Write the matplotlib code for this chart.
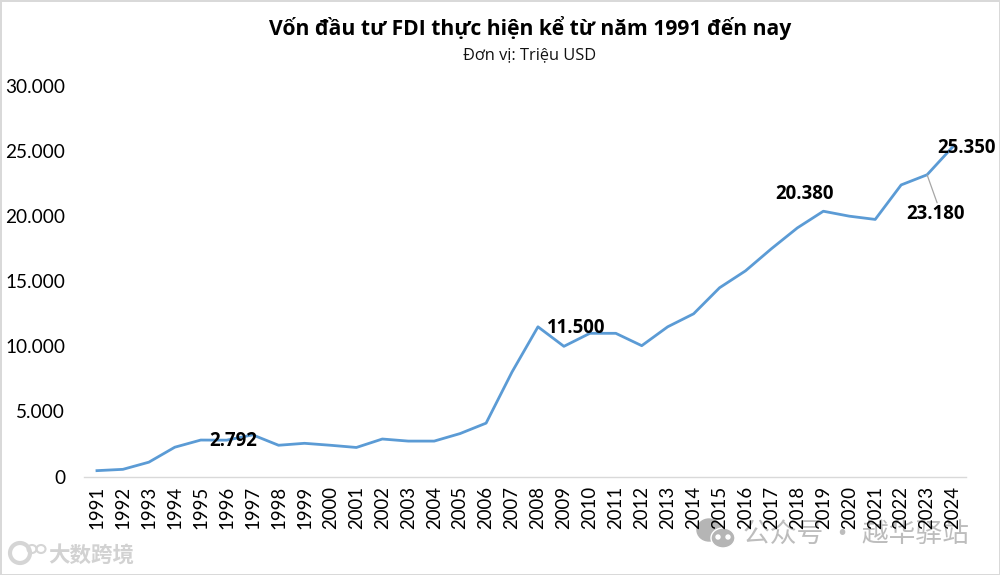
import matplotlib
matplotlib.use("Agg")
import matplotlib.pyplot as plt
from matplotlib.patches import Ellipse

years = list(range(1991, 2025))
fdi = [450, 550, 1100, 2250, 2800, 2792, 3200, 2400, 2550, 2400, 2230, 2880,
       2720, 2720, 3300, 4100, 8030, 11500, 10000, 11000, 11000, 10050, 11500,
       12500, 14500, 15800, 17500, 19100, 20380, 20000, 19750, 22400, 23180, 25350]
yticks = [0, 5000, 10000, 15000, 20000, 25000, 30000]
ylabels = ["0", "5.000", "10.000", "15.000", "20.000", "25.000", "30.000"]
title = "Vốn đầu tư FDI thực hiện kể từ năm 1991 đến nay"
subtitle = "Đơn vị: Triệu USD"
labels = {1996: "2.792", 2008: "11.500", 2019: "20.380", 2023: "23.180", 2024: "25.350"}

PT = 0.72  # points per pixel at dpi 100
plt.rcParams['font.family'] = ['Open Sans', 'DejaVu Sans']
num_font = ['Lato', 'DejaVu Sans']
W, H = 1000, 575
fig = plt.figure(figsize=(W/100, H/100), dpi=100, facecolor='white', edgecolor='#d9d9d9', linewidth=2)

# watermarks sit beneath the chart, as in the reference
cjk = ['Noto Sans CJK SC', 'DejaVu Sans']
fig.text(743/W, 1-535/H, "公众号 · 越华驿站", ha='left', va='center', fontsize=19.3,
         color='#bdbdbd', family=cjk, zorder=-2)
fig.text(48/W, 1-556/H, "大数跨境", ha='left', va='center', fontsize=15.5, fontweight='bold',
         color='#d2d2d2', family=cjk, zorder=-2)
bg = fig.add_axes([0, 0, 1, 1], facecolor='none', zorder=-1)
bg.set_xlim(0, W); bg.set_ylim(H, 0); bg.axis('off')
bg.add_patch(Ellipse((709, 530), 24, 22, color='#b5b5b5'))
bg.add_patch(Ellipse((723, 538), 24, 20, fc='#b5b5b5', ec='white', lw=1))
for cx, cy, r in [(718, 537, 2), (728, 537, 2)]:
    bg.add_patch(Ellipse((cx, cy), 2*r, 2*r, color='white'))
bg.add_patch(Ellipse((20, 553), 20, 20, fc='none', ec='#d5d5d5', lw=3))
bg.add_patch(Ellipse((32, 549), 9, 8, fc='none', ec='#d5d5d5', lw=1.5))
bg.add_patch(Ellipse((41, 549), 9, 8, fc='none', ec='#d5d5d5', lw=1.5))

ax = fig.add_axes([84/W, 1-476.5/H, (966-84)/W, (476.5-86)/H], facecolor='none')
ax.plot(years, fdi, color='#5b9bd5', lw=2.0, solid_joinstyle='round')
ax.set_xlim(1990.5, 2024.5)
ax.set_ylim(0, 30000)
ax.set_xticks(years)
ax.set_xticklabels([str(y) for y in years], rotation=90, fontsize=13.4, color='black', family=num_font)
ax.set_yticks(yticks)
ax.set_yticklabels(ylabels, fontsize=13.7, color='black', family=num_font)
ax.tick_params(length=0, axis='both')
ax.tick_params(axis='x', pad=7)
ax.tick_params(axis='y', pad=13.5)
for s in ['top', 'right', 'left']:
    ax.spines[s].set_visible(False)
ax.spines['bottom'].set_color('#d9d9d9')
ax.spines['bottom'].set_linewidth(1)

offs = {1996: (7, -1), 2008: (38, -1), 2019: (-19, 17), 2023: (8, -39), 2024: (14, -1.5)}
for y, s in labels.items():
    v = fdi[years.index(y)]
    dx, dy = offs[y]
    ax.annotate(s, (y, v), xytext=(dx*PT, dy*PT), textcoords='offset points',
                ha='center', va='center', fontsize=13.4, fontweight='bold', color='black',
                zorder=5, annotation_clip=False)
v23 = fdi[years.index(2023)]
ax.annotate("", (2023, v23), xytext=(10*PT, -28*PT), textcoords='offset points',
            arrowprops=dict(arrowstyle='-', color='#a6a6a6', lw=0.9, shrinkA=0, shrinkB=0))

fig.text(530/W, 1-28/H, title, ha='center', va='center', fontsize=15.2, fontweight='bold', color='black')
fig.text(530/W, 1-55/H, subtitle, ha='center', va='center', fontsize=11.8, color='#111111')

fig.savefig("out.png", dpi=100, facecolor='white', edgecolor='#d9d9d9')
